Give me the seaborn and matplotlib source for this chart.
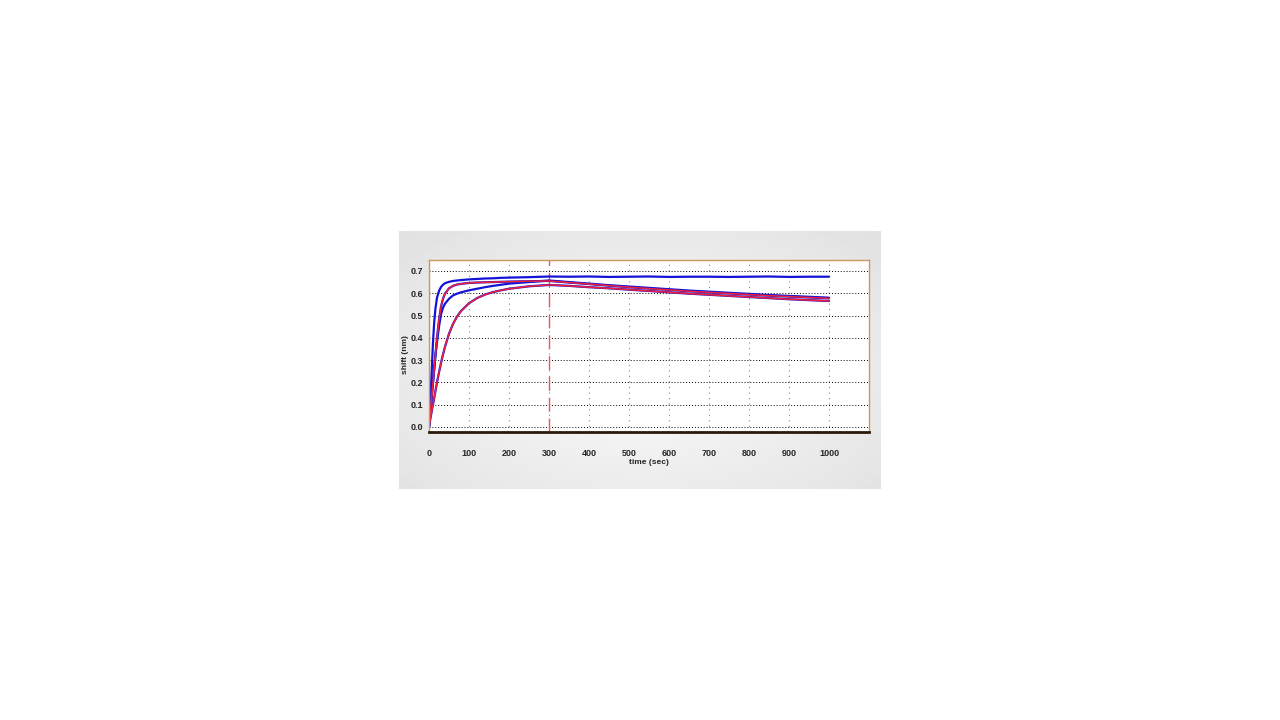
import numpy as np
import pandas as pd
import matplotlib
matplotlib.use("Agg")
import matplotlib.pyplot as plt
import seaborn as sns
from matplotlib.ticker import FixedLocator, MultipleLocator

# association phase (0-300 s), sample times
t_assoc = [0, 2, 4, 6, 8, 10, 13, 16, 20, 25, 30, 35, 40, 50, 60, 70, 80,
           100, 120, 140, 160, 180, 200, 250, 300]
a_assoc = [0, 0.08, 0.15, 0.22, 0.30, 0.38, 0.47, 0.53, 0.58, 0.61, 0.628, 0.638,
           0.645, 0.651, 0.655, 0.657, 0.659, 0.662, 0.664, 0.666, 0.667, 0.669,
           0.670, 0.672, 0.675]
b_assoc = [0, 0.04, 0.08, 0.12, 0.16, 0.20, 0.26, 0.32, 0.40, 0.48, 0.54, 0.575,
           0.598, 0.622, 0.633, 0.639, 0.642, 0.646, 0.648, 0.649, 0.650, 0.651,
           0.652, 0.654, 0.655]
c_assoc = [0, 0.04, 0.08, 0.12, 0.16, 0.20, 0.26, 0.32, 0.38, 0.45, 0.505, 0.535,
           0.553, 0.575, 0.590, 0.598, 0.604, 0.613, 0.620, 0.627, 0.633, 0.638,
           0.643, 0.650, 0.657]
d_assoc = [0, 0.022, 0.043, 0.063, 0.083, 0.10, 0.13, 0.16, 0.20, 0.245, 0.287, 0.325,
           0.36, 0.418, 0.462, 0.495, 0.52, 0.555, 0.578, 0.594, 0.605, 0.613,
           0.620, 0.631, 0.637]

# dissociation phase (300-1000 s)
t_dissoc = [300, 350, 400, 450, 500, 550, 600, 650, 700, 750, 800, 850, 900, 950, 1000]
a_dissoc = [0.675, 0.674, 0.675, 0.673, 0.674, 0.675, 0.673, 0.674, 0.674, 0.673,
            0.674, 0.675, 0.673, 0.674, 0.674]
b_dissoc = [0.655, 0.648, 0.641, 0.634, 0.627, 0.621, 0.615, 0.609, 0.604, 0.599,
            0.594, 0.589, 0.585, 0.581, 0.577]
c_dissoc = [0.657, 0.650, 0.643, 0.636, 0.630, 0.624, 0.618, 0.612, 0.607, 0.602,
            0.597, 0.592, 0.588, 0.584, 0.580]
d_dissoc = [0.637, 0.633, 0.627, 0.622, 0.616, 0.610, 0.604, 0.598, 0.593, 0.588,
            0.583, 0.578, 0.573, 0.569, 0.565]

x_ticks = list(range(0, 1001, 100))
y_ticks = [0.0, 0.1, 0.2, 0.3, 0.4, 0.5, 0.6, 0.7]

t_full = t_assoc + t_dissoc[1:]
curves = pd.DataFrame({
    "time": t_full,
    "A": a_assoc + a_dissoc[1:],
    "B": b_assoc + b_dissoc[1:],
    "C": c_assoc + c_dissoc[1:],
    "D": d_assoc + d_dissoc[1:],
})

sns.set_style("white")
plt.rcParams['font.family'] = ['Liberation Sans Narrow', 'DejaVu Sans Condensed',
                               'Liberation Sans', 'DejaVu Sans']

fig = plt.figure(figsize=(12.8, 7.2), dpi=100)

# grey picture frame behind the plot
bg = fig.add_axes([399 / 1280, 1 - 489 / 720, 482 / 1280, 258 / 720])
yy, xx = np.mgrid[0:258, 0:482]
r = np.hypot((xx - 241) / 300, (yy - 140) / 170)
bg.imshow(np.clip(0.985 - 0.09 * r, 0, 1), cmap="gray", vmin=0, vmax=1,
          aspect="auto", interpolation="bilinear")
bg.axis("off")

ax = fig.add_axes([429 / 1280, 1 - 432 / 720, 440 / 1280, 172 / 720])
ax.set_facecolor("white")

blue = "#1414d8"
red = "#f0203c"

# raw (blue) traces
for name in ["A", "C", "B", "D"]:
    sns.lineplot(data=curves, x="time", y=name, ax=ax, color=blue, lw=1.6,
                 estimator=None, sort=False)
# fitted (red) curves
for name in ["B", "D"]:
    sns.lineplot(data=curves, x="time", y=name, ax=ax, color=red, lw=1.1,
                 estimator=None, sort=False)

ax.axvline(300, color="#ee5555", lw=1.0, ls=(0, (10, 5)), zorder=1)

ax.set_xlim(0, 1100)
ax.set_ylim(-0.0225, 0.749)

ax.xaxis.set_major_locator(FixedLocator(x_ticks))
ax.xaxis.set_minor_locator(MultipleLocator(100 / 6))
ax.yaxis.set_major_locator(FixedLocator(y_ticks))
ax.yaxis.set_minor_locator(MultipleLocator(0.01))
ax.set_xticklabels([str(v) for v in x_ticks])
ax.set_yticklabels([f"{v:.1f}" for v in y_ticks])

ax.yaxis.grid(True, color="black", linestyle=(0, (1, 2)), lw=0.7)
ax.xaxis.grid(True, color="#888888", linestyle=(0, (1, 4)), lw=0.8)
ax.set_axisbelow(True)

ax.tick_params(axis="x", which="major", direction="out", length=5, width=0.9,
               color="#2b1a0a", labelsize=6.5, pad=7)
ax.tick_params(axis="x", which="minor", direction="out", length=3, width=0.7,
               color="#2b1a0a")
ax.tick_params(axis="y", which="major", direction="out", length=3, width=0.9,
               color="#2b1a0a", labelsize=6.5, pad=1)
ax.tick_params(axis="y", which="minor", direction="out", length=2, width=0.6,
               color="#2b1a0a")
for lab in ax.get_xticklabels() + ax.get_yticklabels():
    lab.set_fontweight("bold")

for side in ["top", "right", "left"]:
    ax.spines[side].set_color("#c89860")
    ax.spines[side].set_linewidth(1.0)
ax.spines["bottom"].set_color("#2b1a0a")
ax.spines["bottom"].set_linewidth(2.0)

ax.set_xlabel("time (sec)", fontsize=6, fontweight="bold")
ax.set_ylabel("shift (nm)", fontsize=6, fontweight="bold")
ax.xaxis.set_label_coords(0.5, -0.155)
ax.yaxis.set_label_coords(-0.045, 0.45)

fig.savefig("out.png", dpi=100)
